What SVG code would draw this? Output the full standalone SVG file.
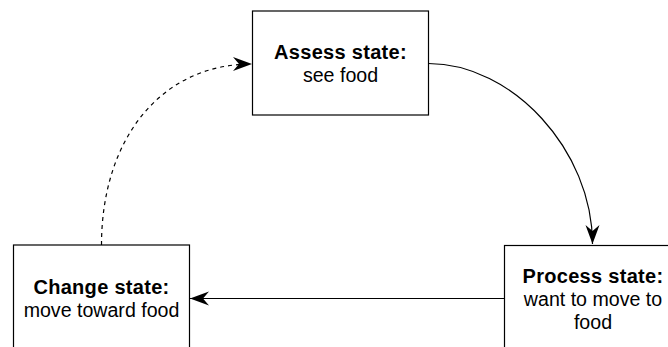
<svg xmlns="http://www.w3.org/2000/svg" width="668" height="347" viewBox="0 0 668 347">
<style>
.box{fill:#fff;stroke:#000;stroke-width:1.2}
.t{font-family:"Liberation Sans",Arial,sans-serif;font-size:19.6px;fill:#000;text-anchor:middle}
.b{font-weight:bold;font-size:20px;letter-spacing:0.3px}
.c{fill:none;stroke:#000;stroke-width:1.2}
.d{stroke-dasharray:4 4}
</style>
<defs>
<marker id="arr" markerUnits="userSpaceOnUse" markerWidth="24" markerHeight="20" viewBox="-20 -10 22 20" refX="0" refY="0" orient="auto">
<path d="M0,0 L-19,-7 L-13,0 L-19,7 Z" fill="#000"/>
</marker>
</defs>
<rect width="668" height="347" fill="#fff"/>
<g id="connectors">
<path class="c" d="M428.5,63.5 C512,63.5 592.5,150 592.5,244" marker-end="url(#arr)"/>
<path class="c" d="M504.5,298.5 L190,298.5" marker-end="url(#arr)"/>
<path class="c d" d="M101.5,245 C101.5,140 160,64 252,64" marker-end="url(#arr)"/>
</g>
<g id="assess">
<rect class="box" x="252.5" y="11" width="176" height="104"/>
<text class="t b" x="340.5" y="59">Assess state:</text>
<text class="t" x="340.5" y="82">see food</text>
</g>
<g id="change">
<rect class="box" x="13.5" y="245" width="176" height="104"/>
<text class="t b" x="101.5" y="294">Change state:</text>
<text class="t" x="101.5" y="317">move toward food</text>
</g>
<g id="process">
<rect class="box" x="504.5" y="245.5" width="176" height="104"/>
<text class="t b" x="593" y="283">Process state:</text>
<text class="t" x="593" y="306">want to move to</text>
<text class="t" x="593" y="329">food</text>
</g>
</svg>
